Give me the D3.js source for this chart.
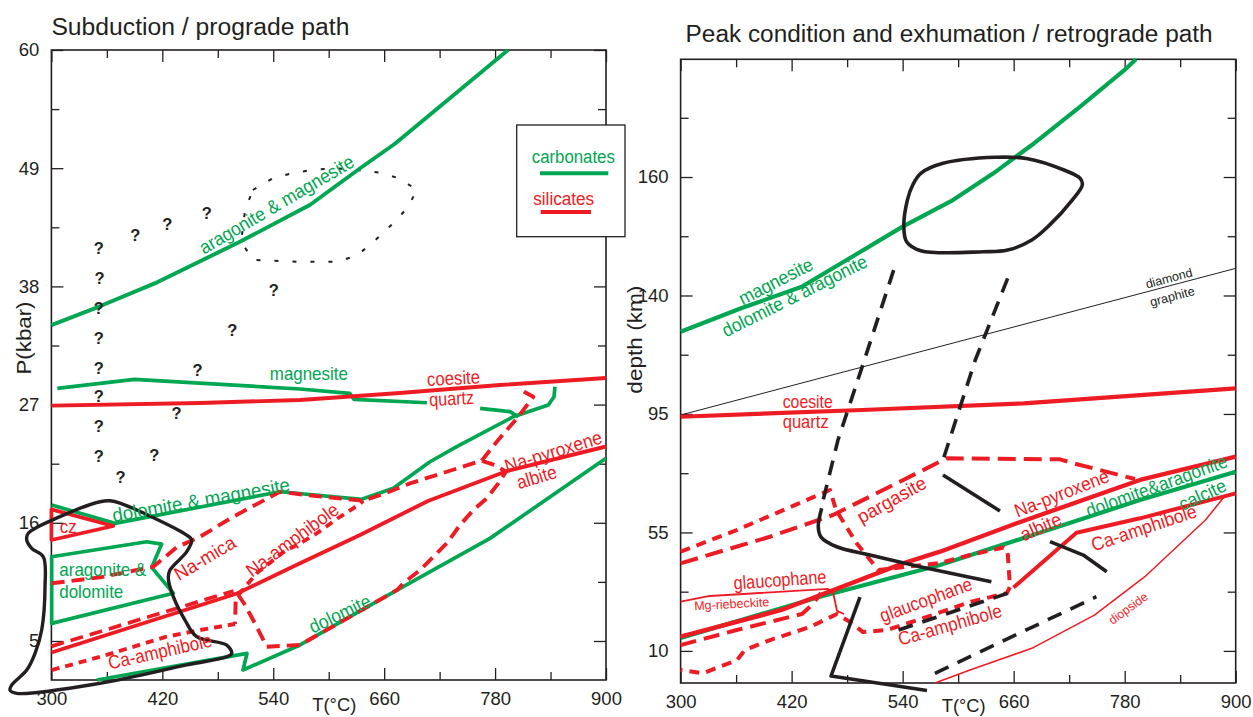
<!DOCTYPE html>
<html><head><meta charset="utf-8">
<script src="https://cdn.jsdelivr.net/npm/d3@7"></script>
<style>
body{margin:0;background:#fff;}
text{font-family:"Liberation Sans",Arial,Helvetica,sans-serif;}
</style></head><body>
<svg id="c" width="1253" height="717"></svg>
<script>
// ---------------- DATA ----------------
const tempTicks = [300,420,540,660,780,900];
const tempMinor = [360,480,600,720,840];
const pTicks = [5,16,27,38,49,60];
const pMinor = [10.5,21.5,32.5,43.5,54.5];
const depthTickP = [49,38,27,16,5];
const depthLabels = ["160","140","95","55","10"];

// ---- left panel (T °C, P kbar) ----
const L_aragMag = [[300,34.4],[351,36.1],[415,38.4],[505,42.2],[580,45.6],[634,49.0],[672,51.3],[794,60]];
const L_peakDotted = [[518,46.97],[539.5,48.06],[563,48.58],[586.5,48.89],[608,48.99],[631.4,48.83],[655,48.58],[676.3,48.06],[695.5,46.97],[684.8,45.26],[667.7,43.71],[650.6,42.32],[631.4,40.92],[610,40.3],[565.1,40.3],[518.1,40.46],[505.3,42.16],[509.5,45.11]];
const L_qT = [351.3,390.7,425.3,468.0,352.2,351.3,351.3,540.7,495.8,351.3,458.2,351.3,435.5,351.3,351.3,411.2,374.8];
const L_qP = [41.54,42.78,43.81,44.80,38.75,35.96,33.17,37.66,33.94,30.37,30.22,27.80,26.19,25.01,22.25,22.31,20.23];
const L_magnesiteA = [[306.4,28.51],[389.8,29.35],[569,28.45],[622.8,28.05],[627.2,27.49],[706.3,27.17]];
const L_magnesiteB = [[763.8,26.65],[796.2,26.34],[805.2,25.87]];
const L_coesite = [[300,26.9],[460.8,27.15],[569,27.43],[677.1,28.08],[785.3,28.82],[900,29.47]];
const L_dolMag = [[300.3,17.65],[368.8,15.95],[547.3,18.89],[635.7,18.18],[669.9,19.21],[709.6,21.68],[738.5,23.08],[799.7,25.87],[837.6,26.96],[843.8,27.73],[844.8,28.66]];
const L_cz = [[300,17.25],[367,15.7],[300,14.4]];
const L_aragDol = [[300.3,12.84],[403.1,14.24],[419.3,14.02],[408.5,11.85],[431.9,9.44],[300.3,6.64]];
const L_dolomite = [[349.1,1.37],[511.6,3.85],[507.3,2.3],[569,4.63],[673.9,9.74],[774.5,14.55],[900,22.0]];
const L_naPyx = [[300.1,3.93],[500.8,9.42],[569,12.23],[633.9,14.86],[707.4,18.03],[792.9,20.82],[900,23.1]];
const L_naPyxDash = [[300,4.5],[497,9.65]];
const L_pathMain = [[300.3,10.37],[352.6,10.92],[410.2,11.91],[435.6,13.72],[460.8,14.7],[496.8,16.57],[547.3,18.89],[576.2,18.58],[637.4,18.05],[662.8,18.8],[688,19.67],[727.7,20.75],[765.5,21.78],[779.9,21.38],[791.8,20.75],[783.5,19.67],[771,18.28],[756.5,17.19],[742.1,15.79],[727.7,14.09],[713.2,12.84],[698.8,11.6],[680.7,10.37],[673.9,9.74],[569,4.63],[532.9,4.47],[522.1,6.33],[509.5,8.35],[502.2,9.28],[499.5,9.1],[498.6,6.58]];
const L_pathUp = [[765.5,21.78],[781.8,23.54],[805.1,25.87],[821.4,27.73],[811.3,28.2],[805.1,28.61]];
const L_naAmph = [[502.2,9.28],[522.4,11.32],[552.3,13.37],[569,14.08],[587,15.02],[612.2,16.56],[632,17.65],[637.4,18.05]];
const L_caAmph = [[300.3,2.29],[352.6,3.53],[424.7,5.4],[461,6.02],[498.6,6.58]];
const L_outline = [[363.4,18.05],[374.2,17.84],[446.4,14.86],[451.8,14.4],[446.4,13.31],[428.3,11.6],[426.5,10.86],[431.9,9.12],[444.5,6.95],[457.2,5.4],[489.7,4.62],[495.1,3.85],[489.7,3.53],[446.4,2.77],[352.6,1.06],[262.5,0.13],[255.2,0.43],[257,0.9],[273.3,2.29],[282.3,3.85],[289.5,6.02],[293.1,10.05],[291.2,12.84],[278.7,13.62],[273.3,14.4],[275,15.02],[309.3,16.57],[352.6,17.96]];

// ---- right panel (T °C, P-equivalent) ----
const R_magArag = [[300,34.64],[365.4,36.81],[430.9,38.81],[485.4,41.6],[540,44.39],[594.4,46.86],[638.1,49.34],[679.6,51.97],[731.9,55.53],[779.9,58.94],[792.2,59.93]];
const R_peak = [[559.6,49.34],[583.6,50.27],[640.4,50.83],[675.2,50.7],[714.4,49.65],[731.9,48.88],[734.2,48.26],[723.3,46.86],[697.1,44.39],[679.6,43.15],[653.5,42.22],[627.2,42.06],[559.6,42.16],[544.3,42.99],[541.3,44.39],[545.1,46.86],[550.9,48.26]];
const R_diamond = [[300,26.9],[900,40.52]];
const R_coesite = [[300,26.74],[496.3,27.37],[670.9,27.99],[900,29.38]];
const R_blkDash1 = [[530.3,40.36],[496.3,31.39],[470.1,24.58],[452.8,18.55]];
const R_blkSolid1 = [[452.5,18.24],[448.8,16.53],[451.8,15.57],[468.7,14.67],[504.7,13.9],[558.8,12.82],[635.9,11.42]];
const R_blkDash2 = [[653.5,39.59],[618.5,32.01],[583.6,22.72]];
const R_blkSolid2a = [[583.6,21.33],[645.2,17.99]];
const R_blkSolid2b = [[699.3,15.14],[735.3,13.9],[760.6,12.35]];
const R_blkSolid3 = [[493.9,10.0],[462.6,2.67],[566.3,1.32]];
const R_blkDash3 = [[574.9,2.92],[749.4,10.03]];
const R_blkDash4 = [[535.6,6.94],[653.5,10.35]];
const R_naPyx = [[300,6.32],[409.1,8.8],[540.4,13.13],[580.4,14.21],[663.3,16.85],[796.6,20.87],[900,23.03]];
const R_dolCal = [[300,6.2],[450.7,10.03],[580.4,12.97],[674.1,15.58],[796.6,19.01],[900,21.64]];
const R_caAmph = [[659.8,10.88],[727.9,15.97],[796.6,17.31],[900,19.63]];
const R_diopside = [[575,2.02],[612.8,3.23],[679.6,5.24],[747.3,8.33],[801.8,11.89],[867.3,17.15],[887.4,19.29]];
const R_pargasite = [[300,13.13],[396.6,15.6],[464.7,17.62],[587.6,22.88],[710.1,22.79],[724.5,22.42],[791.2,20.96]];
const R_dotLoop = [[300,14.21],[360.6,16.22],[461.5,19.94],[468,18.08],[490.3,14.99],[513.8,12.51],[580.4,13.16],[612.8,13.9],[649,14.6],[653.5,14.21],[656,10.96],[652.8,10.37],[612.8,9.54],[566.3,8.15],[523.1,6.94],[497.2,6.75],[483.1,7.68],[469.1,8.43],[439.9,7.22],[396.6,6.01],[369.6,5.08],[361,4.15],[324.2,2.93],[300,3.22]];
const R_glauDash = [[300,5.54],[360.6,6.94],[431.2,8.43],[442,9.26],[451.8,10.38]];
const R_riebeck = [[300,9.57],[331.8,10.1],[459.3,10.75],[464.7,10.47],[469.1,8.71],[476.6,8.43]];

const leftLabels = [
 {t:"aragonite & magnesite",T:543.7,P:45.6,a:-30.5,c:"g",len:176},
 {t:"magnesite",T:578.5,P:29.92,a:0,c:"g",len:78},
 {t:"coesite",T:735,P:29.44,a:-3,c:"r",len:53},
 {t:"quartz",T:733,P:27.55,a:-3,c:"r",len:45},
 {t:"Na-pyroxene",T:843,P:22.6,a:-17.3,c:"r",len:101},
 {t:"albite",T:825,P:20.23,a:-17,c:"r",len:41},
 {t:"dolomite & magnesite",T:462,P:18.1,a:-10,c:"g",len:180},
 {t:"cz",T:318.2,P:15.63,a:0,c:"r",len:17},
 {t:"aragonite &",T:308.5,P:11.6,a:0,c:"g",len:87,anchor:"start"},
 {t:"dolomite",T:308.5,P:9.58,a:0,c:"g",len:64,anchor:"start"},
 {t:"Na-mica",T:466.2,P:12.69,a:-31,c:"r",len:68},
 {t:"Na-amphibole",T:560.8,P:14.4,a:-36.5,c:"r",len:110},
 {t:"Ca-amphibole",T:417.5,P:4.0,a:-12.7,c:"r",len:106},
 {t:"dolomite",T:612.2,P:7.51,a:-25.3,c:"g",len:66}
];
const rightLabels = [
 {t:"magnesite",T:403,P:39.3,a:-27,c:"g",len:81},
 {t:"dolomite & aragonite",T:423.3,P:37.95,a:-26.6,c:"g",len:160},
 {t:"diamond",T:827.9,P:39.59,a:-15,c:"k",len:48,size:12.5},
 {t:"graphite",T:831.5,P:37.89,a:-15,c:"k",len:46,size:12.5},
 {t:"coesite",T:437.4,P:28.14,a:0,c:"r",len:50},
 {t:"quartz",T:435.2,P:26.25,a:0,c:"r",len:46},
 {t:"pargasite",T:528.2,P:19.01,a:-29,c:"r",len:76},
 {t:"Na-pyroxene",T:711.9,P:19.6,a:-21.5,c:"r",len:100},
 {t:"albite",T:689.5,P:16.5,a:-24,c:"r",len:43},
 {t:"dolomite&aragonite",T:814.6,P:20.3,a:-20,c:"g",len:149},
 {t:"calcite",T:864.1,P:19.47,a:-25,c:"g",len:50},
 {t:"Ca-amphibole",T:800.9,P:16.41,a:-18.5,c:"r",len:110},
 {t:"glaucophane",T:407.4,P:11.58,a:-4,c:"r",len:93},
 {t:"Mg-riebeckite",T:355.2,P:9.35,a:-3,c:"r",len:75,size:12.5},
 {t:"glaucophane",T:565.2,P:9.72,a:-20,c:"r",len:97},
 {t:"Ca-amphibole",T:591.1,P:7.4,a:-16,c:"r",len:107},
 {t:"diopside",T:783.9,P:8.95,a:-36,c:"r",len:45,size:12.5}
];
const legendItems = ["carbonates","silicates"];

// ---------------- DRAW ----------------
const GREEN="#00a651", RED="#ed1c24", BLACK="#231f20";
const COL = {g:GREEN, r:RED, k:BLACK};
const svg = d3.select("#c");

const xL = d3.scaleLinear().domain([300,900]).range([51.4,606]);
const yL = d3.scaleLinear().domain([1.37,60]).range([680,50]);
const xR = d3.scaleLinear().domain([300,900]).range([680.6,1235.7]);
const yR = d3.scaleLinear().domain([2.02,59.93]).range([683,59.3]);

function frame(xs, ys, yMajor, yFmt) {
  const g = svg.append("g");
  const [x0,x1] = xs.range(), [y0,y1] = ys.range();
  const style = a => a.call(s=>{s.select(".domain").remove(); s.selectAll("line").attr("stroke",BLACK).attr("stroke-width",1.3);
     s.selectAll("text").attr("font-size",18.5).attr("fill",BLACK).attr("font-family","Liberation Sans, Arial, sans-serif");});
  g.append("g").attr("transform",`translate(0,${y0})`).call(d3.axisBottom(xs).tickValues(tempTicks).tickSize(-12).tickSizeOuter(0).tickPadding(12).tickFormat(d3.format("d"))).call(style);
  g.append("g").attr("transform",`translate(0,${y0})`).call(d3.axisBottom(xs).tickValues(tempMinor).tickSize(-8).tickSizeOuter(0).tickFormat("")).call(style);
  g.append("g").attr("transform",`translate(0,${y1})`).call(d3.axisTop(xs).tickValues(tempTicks).tickSize(-12).tickSizeOuter(0).tickFormat("")).call(style);
  g.append("g").attr("transform",`translate(0,${y1})`).call(d3.axisTop(xs).tickValues(tempMinor).tickSize(-8).tickSizeOuter(0).tickFormat("")).call(style);
  g.append("g").attr("transform",`translate(${x0},0)`).call(d3.axisLeft(ys).tickValues(yMajor).tickSize(-12).tickSizeOuter(0).tickPadding(12).tickFormat(yFmt)).call(style);
  g.append("g").attr("transform",`translate(${x0},0)`).call(d3.axisLeft(ys).tickValues(pMinor).tickSize(-8).tickSizeOuter(0).tickFormat("")).call(style);
  g.append("g").attr("transform",`translate(${x1},0)`).call(d3.axisRight(ys).tickValues(yMajor).tickSize(-12).tickSizeOuter(0).tickFormat("")).call(style);
  g.append("g").attr("transform",`translate(${x1},0)`).call(d3.axisRight(ys).tickValues(pMinor).tickSize(-8).tickSizeOuter(0).tickFormat("")).call(style);
  g.append("rect").attr("x",x0).attr("y",y1).attr("width",x1-x0).attr("height",y0-y1)
    .attr("fill","none").attr("stroke",BLACK).attr("stroke-width",1.6);
}

function line(xs, ys, data, o) {
  const gen = d3.line().x(d=>xs(d[0])).y(d=>ys(d[1])).curve(o.curve || (o.closed ? d3.curveLinearClosed : d3.curveLinear));
  svg.append("path").attr("d", gen(data)).attr("fill","none")
    .attr("stroke", o.color).attr("stroke-width", o.w || 3.5)
    .attr("stroke-dasharray", o.dash || null)
    .attr("stroke-linejoin","round").attr("stroke-linecap", o.cap || "butt");
}

function labels(xs, ys, arr) {
  arr.forEach(d => {
    const s = d.size || 19;
    svg.append("text").attr("transform",`translate(${xs(d.T)},${ys(d.P)}) rotate(${d.a})`)
      .attr("text-anchor", d.anchor || "middle").attr("dy","0.33em")
      .attr("font-size", s).attr("fill", COL[d.c])
      .attr("textLength", d.len).attr("lengthAdjust","spacingAndGlyphs")
      .text(d.t);
  });
}

// frames
frame(xL, yL, pTicks, d3.format("d"));
const depthMap = new Map(depthTickP.map((p,i)=>[p, depthLabels[i]]));
frame(xR, yR, depthTickP, p => depthMap.get(p));

// titles
svg.append("text").attr("x",xL(300)).attr("y",35).attr("font-family","Open Sans, Noto Sans, sans-serif")
  .attr("font-size",23.5).attr("fill",BLACK).attr("textLength",298).attr("lengthAdjust","spacingAndGlyphs")
  .text("Subduction / prograde path");
svg.append("text").attr("x",xR(300)+5).attr("y",41.7).attr("font-family","Open Sans, Noto Sans, sans-serif")
  .attr("font-size",23.5).attr("fill",BLACK).attr("textLength",527).attr("lengthAdjust","spacingAndGlyphs")
  .text("Peak condition and exhumation / retrograde path");

// axis titles
svg.append("text").attr("transform",`translate(${xL(606)},711)`).attr("text-anchor","middle")
  .attr("font-size",19).attr("fill",BLACK).attr("textLength",44).attr("lengthAdjust","spacingAndGlyphs").text("T(°C)");
svg.append("text").attr("transform",`translate(${xR(606)},712)`).attr("text-anchor","middle")
  .attr("font-size",19).attr("fill",BLACK).attr("textLength",44).attr("lengthAdjust","spacingAndGlyphs").text("T(°C)");
svg.append("text").attr("transform",`translate(31,${yL(33.2)}) rotate(-90)`).attr("text-anchor","middle")
  .attr("font-size",20).attr("fill",BLACK).attr("textLength",73).attr("lengthAdjust","spacingAndGlyphs").text("P(kbar)");
svg.append("text").attr("transform",`translate(642,${yR(33.9)}) rotate(-90)`).attr("text-anchor","middle")
  .attr("font-size",20).attr("fill",BLACK).attr("textLength",108).attr("lengthAdjust","spacingAndGlyphs").text("depth (km)");

// ---- left panel marks ----
line(xL,yL,L_peakDotted,{color:BLACK,w:2,dash:"4,14",closed:true});
line(xL,yL,L_aragMag,{color:GREEN,w:3.9});
line(xL,yL,L_magnesiteA,{color:GREEN,w:3.7});
line(xL,yL,L_magnesiteB,{color:GREEN,w:3.7});
line(xL,yL,L_dolMag,{color:GREEN,w:3.7});
line(xL,yL,L_aragDol,{color:GREEN,w:3.7,closed:true});
line(xL,yL,L_dolomite,{color:GREEN,w:3.7});
line(xL,yL,L_coesite,{color:RED,w:3.9});
line(xL,yL,L_cz,{color:RED,w:3.7,closed:true});
line(xL,yL,L_naPyx,{color:RED,w:3.9});
line(xL,yL,L_naPyxDash,{color:RED,w:3.7,dash:"13,7"});
line(xL,yL,L_pathMain,{color:RED,w:3.9,dash:"13,7"});
line(xL,yL,L_pathUp,{color:RED,w:3.9,dash:"13,7"});
line(xL,yL,L_naAmph,{color:RED,w:3.9,dash:"8,6"});
line(xL,yL,L_caAmph,{color:RED,w:3.9,dash:"8,6"});
line(xL,yL,L_outline,{color:BLACK,w:3.4,curve:d3.curveCatmullRomClosed.alpha(0.5)});
L_qT.forEach((t,i)=>{
  svg.append("text").attr("x",xL(t)).attr("y",yL(L_qP[i])).attr("dy","0.36em").attr("text-anchor","middle")
    .attr("font-size",16.5).attr("font-weight","bold").attr("fill",BLACK).text("?");
});
labels(xL,yL,leftLabels);

// ---- right panel marks ----
line(xR,yR,R_diamond,{color:BLACK,w:1});
line(xR,yR,R_magArag,{color:GREEN,w:4.2});
line(xR,yR,R_coesite,{color:RED,w:4.2});
line(xR,yR,R_dolCal,{color:GREEN,w:4.2});
line(xR,yR,R_naPyx,{color:RED,w:4.4});
line(xR,yR,R_caAmph,{color:RED,w:4});
line(xR,yR,R_diopside,{color:RED,w:1.5});
line(xR,yR,R_riebeck,{color:RED,w:1.8});
line(xR,yR,R_pargasite,{color:RED,w:4,dash:"18,8"});
line(xR,yR,R_glauDash,{color:RED,w:4,dash:"16,8"});
line(xR,yR,R_dotLoop,{color:RED,w:4,dash:"10,7"});
line(xR,yR,R_peak,{color:BLACK,w:3.6,curve:d3.curveCatmullRomClosed.alpha(0.5)});
line(xR,yR,R_blkDash1,{color:BLACK,w:3.6,dash:"15,10"});
line(xR,yR,R_blkSolid1,{color:BLACK,w:3.6,curve:d3.curveCatmullRom.alpha(0.5)});
line(xR,yR,R_blkDash2,{color:BLACK,w:3.6,dash:"15,10"});
line(xR,yR,R_blkSolid2a,{color:BLACK,w:3.6});
line(xR,yR,R_blkSolid2b,{color:BLACK,w:3.6});
line(xR,yR,R_blkSolid3,{color:BLACK,w:3.6});
line(xR,yR,R_blkDash3,{color:BLACK,w:3.6,dash:"15,10"});
line(xR,yR,R_blkDash4,{color:BLACK,w:3.6,dash:"15,10"});
labels(xR,yR,rightLabels);

// ---- legend ----
const lg = svg.append("g");
lg.append("rect").attr("x",516.7).attr("y",125).attr("width",108.3).attr("height",111.7)
  .attr("fill","#fff").attr("stroke",BLACK).attr("stroke-width",1.3);
lg.append("text").attr("x",573.3).attr("y",163).attr("text-anchor","middle").attr("font-size",18)
  .attr("fill",GREEN).attr("textLength",83).attr("lengthAdjust","spacingAndGlyphs").text(legendItems[0]);
lg.append("line").attr("x1",540).attr("x2",608.3).attr("y1",173.3).attr("y2",173.3).attr("stroke",GREEN).attr("stroke-width",4);
lg.append("text").attr("x",563.7).attr("y",205).attr("text-anchor","middle").attr("font-size",18)
  .attr("fill",RED).attr("textLength",61).attr("lengthAdjust","spacingAndGlyphs").text(legendItems[1]);
lg.append("line").attr("x1",540.7).attr("x2",591).attr("y1",212).attr("y2",212).attr("stroke",RED).attr("stroke-width",4);
</script>
</body></html>
